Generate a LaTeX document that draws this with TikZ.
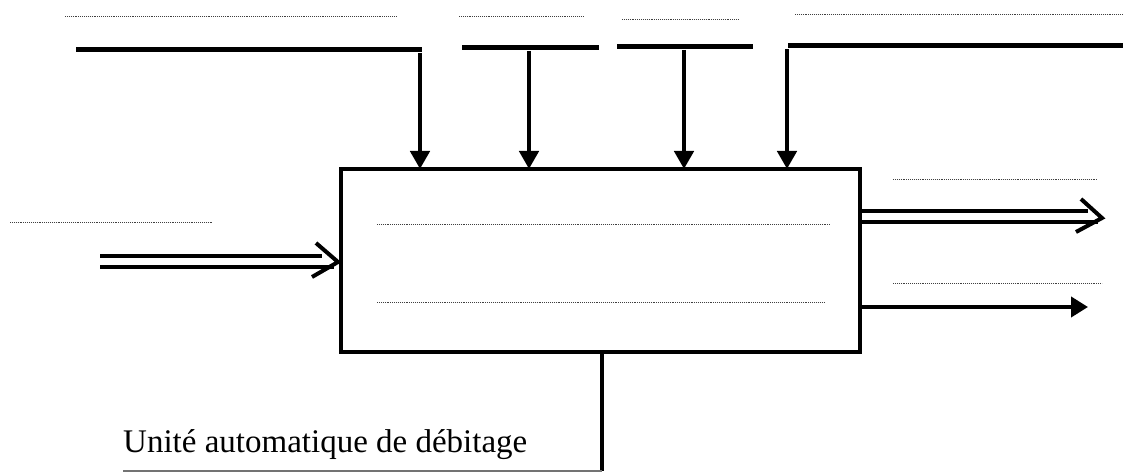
\documentclass[tikz,border=0pt]{standalone}
\usepackage{fontspec}
\setmainfont{Liberation Serif}
\usetikzlibrary{arrows.meta}
\begin{document}
\begin{tikzpicture}[x=1pt,y=-1pt,
  dots/.style={line width=0.9pt, dash pattern=on 1pt off 0.9pt, black!75},
  bar/.style={line width=5pt},
  arr/.style={line width=4.5pt, -{Triangle[length=18pt,width=19pt]}},
  thick4/.style={line width=4pt},
  chev/.style={line width=4pt, line cap=butt, line join=miter},
  lbl/.style={font=\fontsize{33}{39}\selectfont, inner sep=0pt}]
\useasboundingbox (0,0) rectangle (1123,473);
% main box
\node[draw, line width=4.5pt, minimum width=519pt, minimum height=183pt, inner sep=0pt, outer sep=0pt] (box) at (600.5,260.5) {};
% dotted lines (label placeholders)
\draw[dots] (65,16) -- (397,16);
\draw[dots] (459,16) -- (583,16);
\draw[dots] (622,19) -- (739,19);
\draw[dots] (795,14) -- (1123,14);
\draw[dots] (10,222) -- (213,222);
\draw[dots] (377,224) -- (831,224);
\draw[dots] (377,302) -- (825,302);
\draw[dots] (893,179) -- (1098,179);
\draw[dots] (893,283) -- (1102,283);
% top bars
\coordinate (b1l) at (76,50);  \coordinate (b1r) at (422,50);
\coordinate (b2l) at (462,48); \coordinate (b2r) at (599,48);
\coordinate (b3l) at (617,47); \coordinate (b3r) at (753,47);
\coordinate (b4l) at (788,46); \coordinate (b4r) at (1123,46);
\draw[bar] (b1l) -- (b1r);
\draw[bar] (b2l) -- (b2r);
\draw[bar] (b3l) -- (b3r);
\draw[bar] (b4l) -- (b4r);
% vertical arrows
\coordinate (v1) at (420,53);
\coordinate (v2) at (529,51);
\coordinate (v3) at (684,50);
\coordinate (v4) at (787,49);
\draw[arr] (v1) -- (v1 |- box.north);
\draw[arr] (v2) -- (v2 |- box.north);
\draw[arr] (v3) -- (v3 |- box.north);
\draw[arr] (v4) -- (v4 |- box.north);
% left double arrow
\coordinate (li1) at (100,256);
\coordinate (li2) at (100,267);
\draw[thick4] (li1) -- (322,256);
\draw[thick4] (li2) -- (334,267);
\draw[chev] (316,243) -- (338,262) -- (312,277);
% right double arrow
\coordinate (ro1) at (box.east |- 0,211);
\coordinate (ro2) at (box.east |- 0,222);
\draw[thick4] (ro1) -- (1088,211);
\draw[thick4] (ro2) -- (1098,222);
\draw[chev] (1081,199) -- (1102,218) -- (1076,232);
% right single arrow
\coordinate (rs) at (box.east |- 0,307);
\coordinate (rse) at (1088,307);
\draw[line width=4pt, -{Triangle[length=17pt,width=20pt]}] (rs) -- (rse);
% bottom mechanism
\coordinate (mb) at (602,471);
\coordinate (ml) at (123,471);
\draw[thick4] (box.south -| mb) -- (mb);
\draw[line width=1.5pt, black!55] (ml) -- (mb);
\node[lbl, anchor=base west] (txt) at (123,452) {Unité automatique de débitage};
\end{tikzpicture}
\end{document}
